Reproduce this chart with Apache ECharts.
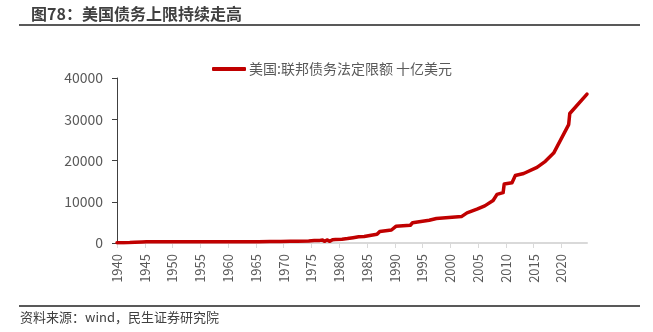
<!DOCTYPE html>
<html>
<head>
<meta charset="utf-8">
<script src="https://cdn.jsdelivr.net/npm/echarts@6/dist/echarts.min.js"></script>
<style>
html,body{margin:0;padding:0;background:#fff;}
#main{width:653px;height:332px;}
</style>
</head>
<body>
<div id="main"></div>
<script>
// Data (decimal year, billions USD)
const years = [1940.0, 1941.2, 1942.3, 1943.2, 1944.5, 1945.3, 1946.5, 1954.6, 1956.5, 1958.2,
  1959.5, 1962.5, 1963.5, 1964.5, 1965.5, 1967.5, 1969.5, 1971.2, 1972.5, 1974.5,
  1975.5, 1976.5, 1977.0, 1977.4, 1977.8, 1978.3, 1978.8, 1979.3, 1980.5, 1981.5,
  1982.5, 1983.5, 1984.5, 1985.5, 1986.8, 1987.3, 1989.4, 1990.2, 1992.8, 1993.2,
  1996.2, 1997.5, 2002.0, 2003.0, 2004.8, 2006.2, 2007.7, 2008.4, 2009.5, 2009.7,
  2011.1, 2011.7, 2013.2, 2015.6, 2017.1, 2018.6, 2021.3, 2021.5, 2024.6];
const debtLimit = [49, 65, 125, 210, 260, 300, 275, 281, 278, 288,
  295, 300, 309, 324, 328, 358, 377, 430, 450, 495,
  595, 636, 700, 400, 752, 400, 798, 830, 925, 1079,
  1290, 1490, 1573, 1823, 2111, 2800, 3150, 4050, 4300, 4900,
  5500, 5950, 6400, 7300, 8200, 9000, 10300, 11800, 12200, 14300,
  14600, 16350, 16850, 18350, 19800, 21800, 28700, 31400, 36100];
const xTickYears = [1940, 1945, 1950, 1955, 1960, 1965, 1970, 1975, 1980, 1985, 1990, 1995, 2000, 2005, 2010, 2015, 2020];
const yTicks = [0, 10000, 20000, 30000, 40000];
const seriesName = '美国:联邦债务法定限额 十亿美元';
const titleText = '图78：美国债务上限持续走高';
const sourceText = '资料来源：wind，民生证券研究院';

const FONT = '"Noto Sans CJK SC", "Noto Sans", sans-serif';
const chart = echarts.init(document.getElementById('main'), null, {renderer: 'canvas'});
chart.setOption({
  animation: false,
  backgroundColor: '#fff',
  title: {
    text: titleText, left: 26, top: 1,
    textStyle: {fontFamily: FONT, fontSize: 16, fontWeight: 'bold', color: '#404040'}
  },
  graphic: [
    {type: 'line', shape: {x1: 19, y1: 25, x2: 640, y2: 25}, style: {stroke: '#595959', lineWidth: 2}},
    {type: 'line', shape: {x1: 19, y1: 306, x2: 640, y2: 306}, style: {stroke: '#595959', lineWidth: 2}},
    {type: 'text', left: 20, top: 311, style: {text: sourceText, font: '13px ' + FONT, fill: '#404040'}}
  ],
  legend: {
    left: 207, top: 57,
    icon: 'roundRect', itemWidth: 34, itemHeight: 4, itemGap: 10,
    textStyle: {fontFamily: FONT, fontSize: 14, color: '#595959', padding: [0, 0, 0, -2]},
    data: [seriesName]
  },
  grid: {left: 117, right: 66, top: 78, bottom: 89, containLabel: false},
  xAxis: {
    type: 'value', min: 1940, max: 2024.6, interval: 5,
    axisLine: {lineStyle: {color: '#d9d9d9', width: 2}},
    axisTick: {show: true, length: 5, lineStyle: {color: '#d9d9d9'}, customValues: xTickYears},
    axisLabel: {rotate: 90, margin: 11, fontFamily: FONT, fontSize: 13, color: '#595959',
      customValues: xTickYears, formatter: v => String(Math.round(v))},
    splitLine: {show: false}
  },
  yAxis: {
    type: 'value', min: yTicks[0], max: yTicks[yTicks.length - 1], interval: 10000,
    axisLine: {show: true, lineStyle: {color: '#404040', width: 1}},
    axisTick: {show: true, length: 5, lineStyle: {color: '#404040'}},
    axisLabel: {margin: 14, fontFamily: FONT, fontSize: 14, color: '#595959',
      formatter: v => String(v)},
    splitLine: {show: false}
  },
  series: [{
    name: seriesName, type: 'line', showSymbol: false, symbol: 'none',
    data: years.map((y, i) => [y, debtLimit[i]]),
    lineStyle: {color: '#c00000', width: 3.5, cap: 'round', join: 'round'},
    itemStyle: {color: '#c00000'}
  }]
});
</script>
</body>
</html>
